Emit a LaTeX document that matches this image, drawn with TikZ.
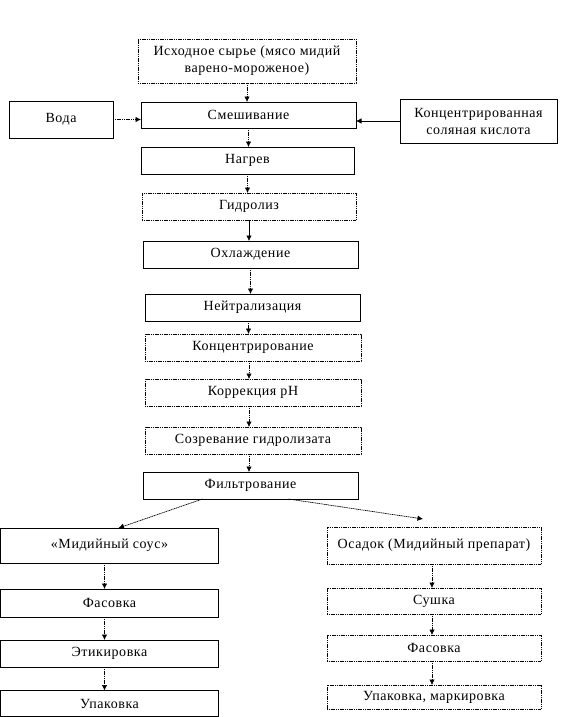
\documentclass[tikz,border=0pt]{standalone}
\usepackage{fontspec}
\setmainfont[LetterSpace=4]{Liberation Serif}
\usetikzlibrary{arrows.meta,positioning}

\tikzset{
  stage/.style={draw, line width=0.7pt, inner sep=0pt, outer sep=0pt, align=center,
    font=\fontsize{14}{17}\selectfont},
  dotstage/.style={stage, dash pattern=on 1.2pt off 0.6pt},
  flow/.style={-{Latex[length=5.5pt,width=5.5pt]}, line width=0.7pt, dash pattern=on 1.2pt off 0.6pt},
  solidflow/.style={-{Latex[length=5.5pt,width=5.5pt]}, line width=0.7pt},
}

\begin{document}
\begin{tikzpicture}[x=1pt, y=-1pt]
        \useasboundingbox (0,0) rectangle (561,717);
        % main line
        \node[dotstage, minimum width=218pt, minimum height=44pt] (src) at (247,61) {Исходное сырье (мясо мидий\\варено-мороженое)};
        \node[stage, minimum width=104pt, minimum height=37pt] (water) at (61,119.5) {Вода};
        \node[stage, minimum width=215pt, minimum height=26pt] (mix) at (248.5,115) {Смешивание};
        \node[stage, minimum width=157pt, minimum height=44pt] (acid) at (478.5,121) {Концентрированная\\соляная кислота};
        \node[stage, minimum width=213pt, minimum height=27pt] (heat) at (247.5,160.5) {Нагрев};
        \node[dotstage, minimum width=214pt, minimum height=27pt] (hydro) at (249,206.5) {Гидролиз};
        \node[stage, minimum width=215pt, minimum height=27pt] (cool) at (250.5,254.5) {Охлаждение};
        \node[stage, minimum width=215pt, minimum height=27pt] (neut) at (252.5,307.5) {Нейтрализация};
        \node[dotstage, minimum width=216pt, minimum height=27pt] (conc) at (253,347.5) {Концентрирование};
        \node[dotstage, minimum width=216pt, minimum height=27pt] (ph) at (253,392.5) {Коррекция рН};
        \node[dotstage, minimum width=216pt, minimum height=27pt] (ripe) at (253,440.5) {Созревание гидролизата};
        \node[stage, minimum width=215pt, minimum height=27pt] (filt) at (250.5,485.5) {Фильтрование};
        % sauce branch
        \node[stage, minimum width=218pt, minimum height=35pt] (sauce) at (109.5,545.5) {«Мидийный соус»};
        \node[stage, minimum width=218pt, minimum height=28pt] (packa) at (109.5,603) {Фасовка};
        \node[stage, minimum width=218pt, minimum height=27pt] (label) at (109.5,653.5) {Этикировка};
        \node[stage, minimum width=218pt, minimum height=26pt] (wrapa) at (109.5,703.5) {Упаковка};
        % sediment branch
        \node[dotstage, minimum width=214pt, minimum height=37pt] (sed) at (434,545.5) {Осадок (Мидийный препарат)};
        \node[dotstage, minimum width=214pt, minimum height=26pt] (dry) at (434,601) {Сушка};
        \node[dotstage, minimum width=214pt, minimum height=26pt] (packb) at (434,648) {Фасовка};
        \node[dotstage, minimum width=214pt, minimum height=24pt] (wrapb) at (434,697) {Упаковка, маркировка};

        \draw[flow] (src) -- (src |- mix.north);
        \draw[flow] (water.east) -- (water.east -| mix.west);
        \draw[solidflow] (acid.west) -- (acid.west -| mix.east);
        \draw[flow] (mix) -- (mix |- heat.north);
        \draw[flow] (heat) -- (heat |- hydro.north);
        \draw[solidflow] (hydro) -- (hydro |- cool.north);
        \draw[flow] (cool) -- (cool |- neut.north);
        \draw[flow] ([xshift=-4pt]neut.south) -- ([xshift=-4pt]neut.south |- conc.north);
        \draw[flow] ([xshift=-4pt]conc.south) -- ([xshift=-4pt]conc.south |- ph.north);
        \draw[flow] ([xshift=-4pt]ph.south) -- ([xshift=-4pt]ph.south |- ripe.north);
        \draw[flow] ([xshift=-4pt]ripe.south) -- ([xshift=-4pt]ripe.south |- filt.north);
        \draw[flow] ([xshift=-48pt]filt.south) -- ([xshift=9pt]sauce.north);
        \draw[flow] ([xshift=38pt]filt.south) -- ([xshift=-11pt,yshift=8pt]sed.north);
        \draw[flow] ([xshift=-5pt]sauce.south) -- ([xshift=-5pt]sauce.south |- packa.north);
        \draw[flow] ([xshift=-5pt]packa.south) -- ([xshift=-5pt]packa.south |- label.north);
        \draw[flow] ([xshift=-5pt]label.south) -- ([xshift=-5pt]label.south |- wrapa.north);
        \draw[flow] ([xshift=-2pt]sed.south) -- ([xshift=-2pt]sed.south |- dry.north);
        \draw[flow] ([xshift=-2pt]dry.south) -- ([xshift=-2pt]dry.south |- packb.north);
        \draw[flow] ([xshift=-2pt]packb.south) -- ([xshift=-2pt]packb.south |- wrapb.north);
    \end{tikzpicture}
\end{document}
